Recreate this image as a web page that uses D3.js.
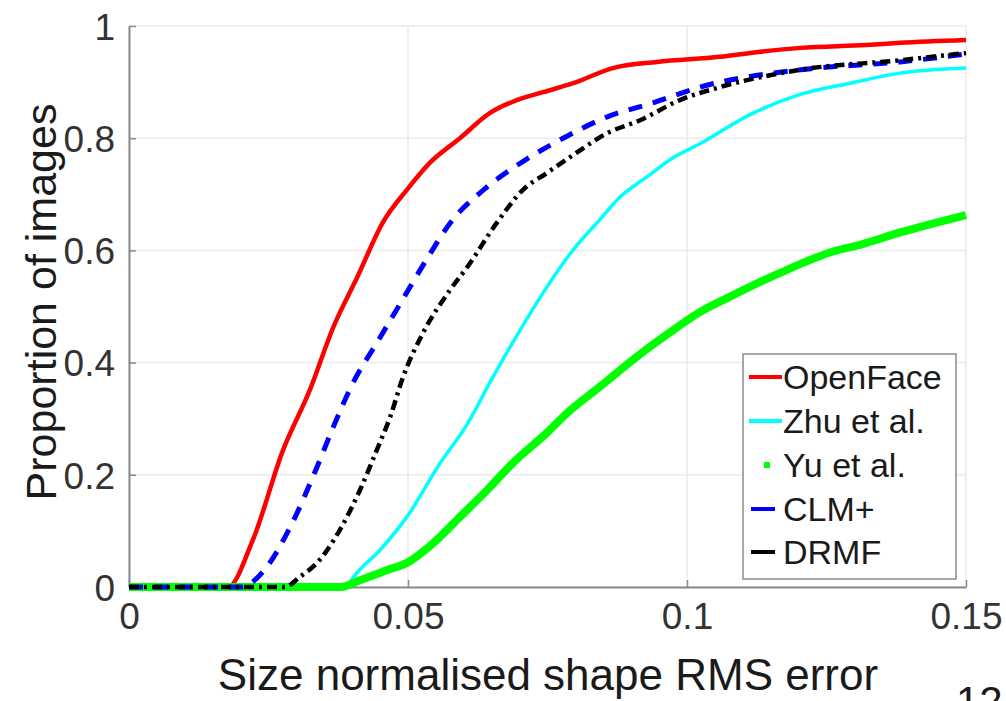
<!DOCTYPE html>
<html><head><meta charset="utf-8">
<script src="https://cdn.jsdelivr.net/npm/d3@7"></script>
<style>body{margin:0;background:#fff;} svg{display:block;font-family:"Liberation Sans",Arial,sans-serif;}</style>
</head><body>
<svg id="c" width="1006" height="701"></svg>
<script>
const openFaceX = [0, 0.0177, 0.0222, 0.0276, 0.0324, 0.0366, 0.0409, 0.0455, 0.0498, 0.0539, 0.0593, 0.0647, 0.0695, 0.0742, 0.0796, 0.0867, 0.0946, 0.1059, 0.1131, 0.1203, 0.1321, 0.1382, 0.15];
const openFaceY = [0, 0, 0.084, 0.244, 0.351, 0.463, 0.552, 0.650, 0.708, 0.756, 0.800, 0.845, 0.868, 0.882, 0.898, 0.925, 0.936, 0.945, 0.954, 0.961, 0.966, 0.970, 0.975];
const zhuX = [0, 0.039, 0.0401, 0.045, 0.0498, 0.0557, 0.0606, 0.0652, 0.0701, 0.0749, 0.0796, 0.0844, 0.088, 0.0928, 0.0975, 0.1023, 0.1113, 0.1203, 0.1292, 0.1382, 0.15];
const zhuY = [0, 0, 0.016, 0.066, 0.125, 0.220, 0.290, 0.374, 0.458, 0.535, 0.601, 0.655, 0.695, 0.731, 0.765, 0.790, 0.842, 0.878, 0.898, 0.916, 0.925];
const yuX = [0, 0.038, 0.0414, 0.0462, 0.0498, 0.0545, 0.0593, 0.0642, 0.0688, 0.0749, 0.0785, 0.0844, 0.0903, 0.0964, 0.1023, 0.1072, 0.1167, 0.1262, 0.131, 0.1382, 0.15];
const yuY = [0, 0, 0.012, 0.030, 0.043, 0.078, 0.125, 0.173, 0.221, 0.275, 0.310, 0.357, 0.405, 0.450, 0.490, 0.515, 0.560, 0.598, 0.610, 0.632, 0.663];
const clmX = [0, 0.020, 0.0247, 0.0289, 0.0337, 0.0366, 0.0401, 0.0444, 0.0486, 0.0534, 0.0578, 0.0638, 0.0710, 0.0778, 0.0857, 0.0939, 0.1023, 0.1203, 0.1382, 0.15];
const clmY = [0, 0, 0.036, 0.107, 0.214, 0.285, 0.363, 0.435, 0.505, 0.585, 0.652, 0.710, 0.761, 0.800, 0.838, 0.863, 0.891, 0.922, 0.936, 0.950];
const drmfX = [0, 0.028, 0.0306, 0.0337, 0.0378, 0.0414, 0.0444, 0.0468, 0.0491, 0.0527, 0.0575, 0.0606, 0.0659, 0.0706, 0.0749, 0.0796, 0.0857, 0.0916, 0.0987, 0.1059, 0.1203, 0.1382, 0.15];
const drmfY = [0, 0, 0.018, 0.043, 0.102, 0.173, 0.244, 0.303, 0.374, 0.453, 0.529, 0.570, 0.649, 0.708, 0.738, 0.770, 0.809, 0.832, 0.868, 0.891, 0.922, 0.939, 0.952];

const seriesNames = ["OpenFace", "Zhu et al.", "Yu et al.", "CLM+", "DRMF"];
const xTicks = [0, 0.05, 0.1, 0.15];
const xTickLabels = ["0", "0.05", "0.1", "0.15"];
const yTicks = [0, 0.2, 0.4, 0.6, 0.8, 1];
const yTickLabels = ["0", "0.2", "0.4", "0.6", "0.8", "1"];
const xTitle = "Size normalised shape RMS error";
const yTitle = "Proportion of images";

const svg = d3.select("#c");
const L = 129, R = 966, T = 26, B = 587;
const x = d3.scaleLinear().domain([0, 0.15]).range([L, R]);
const y = d3.scaleLinear().domain([0, 1]).range([B, T]);

// grid
const g = svg.append("g");
g.selectAll(".gx").data(xTicks).join("line")
  .attr("x1", d => x(d)).attr("x2", d => x(d)).attr("y1", T).attr("y2", B)
  .attr("stroke", "#ebebeb").attr("stroke-width", 1.5);
g.selectAll(".gy").data(yTicks).join("line")
  .attr("y1", d => y(d)).attr("y2", d => y(d)).attr("x1", L).attr("x2", R)
  .attr("stroke", "#ebebeb").attr("stroke-width", 1.5);

// axes
const xAxis = d3.axisBottom(x).tickValues(xTicks).tickFormat((d, i) => xTickLabels[i]).tickSizeInner(-7).tickSizeOuter(0).tickPadding(16);
const yAxis = d3.axisLeft(y).tickValues(yTicks).tickFormat((d, i) => yTickLabels[i]).tickSizeInner(-7).tickSizeOuter(0).tickPadding(14);
const ax = svg.append("g").attr("transform", `translate(0,${B})`).call(xAxis);
const ay = svg.append("g").attr("transform", `translate(${L},0)`).call(yAxis);
[ax, ay].forEach(a => {
  a.select(".domain").attr("stroke", "#8a8a8a").attr("stroke-width", 2);
  a.selectAll(".tick line").attr("stroke", "#8a8a8a").attr("stroke-width", 1.5);
  a.selectAll(".tick text").attr("fill", "#333").style("font-size", "37px").style("font-family", "'Liberation Sans',Arial,sans-serif");
});
ax.selectAll(".tick text").attr("dy", "0.71em");
ay.selectAll(".tick text").attr("dy", "0.36em");

const line = d3.line().x(d => x(d[0])).y(d => y(d[1])).curve(d3.curveMonotoneX);
const zip = (a, b) => a.map((v, i) => [v, b[i]]);

const plot = svg.append("g");
plot.append("path").datum(zip(openFaceX, openFaceY)).attr("d", line)
  .attr("fill", "none").attr("stroke", "#ff0000").attr("stroke-width", 4.5);
plot.append("path").datum(zip(zhuX, zhuY)).attr("d", line)
  .attr("fill", "none").attr("stroke", "#00ffff").attr("stroke-width", 3.5);
const yuData = zip(yuX, yuY);
plot.append("path").datum(yuData).attr("d", line)
  .attr("fill", "none").attr("stroke", "#00ff00").attr("stroke-width", 8).attr("stroke-linejoin", "round");
plot.append("path").datum(zip(clmX, clmY)).attr("d", line)
  .attr("fill", "none").attr("stroke", "#0000ff").attr("stroke-width", 5).attr("stroke-dasharray", "14,11");
plot.append("path").datum(zip(drmfX, drmfY)).attr("d", line)
  .attr("fill", "none").attr("stroke", "#000000").attr("stroke-width", 4.5).attr("stroke-dasharray", "10,5,3,5");

// legend
const lg = svg.append("g");
lg.append("rect").attr("x", 743).attr("y", 354).attr("width", 213).attr("height", 225)
  .attr("fill", "#fff").attr("stroke", "#8a8a8a").attr("stroke-width", 1.5);
const legY = [377, 421, 465, 509, 552];
const legColors = ["#ff0000", "#00ffff", "#00ff00", "#0000ff", "#000000"];
seriesNames.forEach((n, i) => {
  const yy = legY[i];
  if (i < 2) {
    lg.append("line").attr("x1", 749).attr("x2", 782).attr("y1", yy).attr("y2", yy)
      .attr("stroke", legColors[i]).attr("stroke-width", 4);
  } else if (i === 2) {
    lg.append("rect").attr("x", 764).attr("y", yy - 3).attr("width", 6).attr("height", 6).attr("fill", legColors[i]);
  } else {
    lg.append("line").attr("x1", 751).attr("x2", 775).attr("y1", yy).attr("y2", yy)
      .attr("stroke", legColors[i]).attr("stroke-width", 4);
  }
  lg.append("text").attr("x", 783).attr("y", yy).attr("dy", "0.36em")
    .attr("fill", "#1a1a1a").style("font-size", "34px").text(n);
});

// titles
svg.append("text").attr("x", 548).attr("y", 690).attr("text-anchor", "middle")
  .attr("fill", "#1a1a1a").style("font-size", "44px").text(xTitle);
svg.append("text").attr("transform", "translate(56,302) rotate(-90)").attr("text-anchor", "middle")
  .attr("fill", "#1a1a1a").style("font-size", "43px").text(yTitle);
svg.append("text").attr("x", 956).attr("y", 716)
  .attr("fill", "#1a1a1a").style("font-size", "42px").text("12");
</script>
</body></html>
